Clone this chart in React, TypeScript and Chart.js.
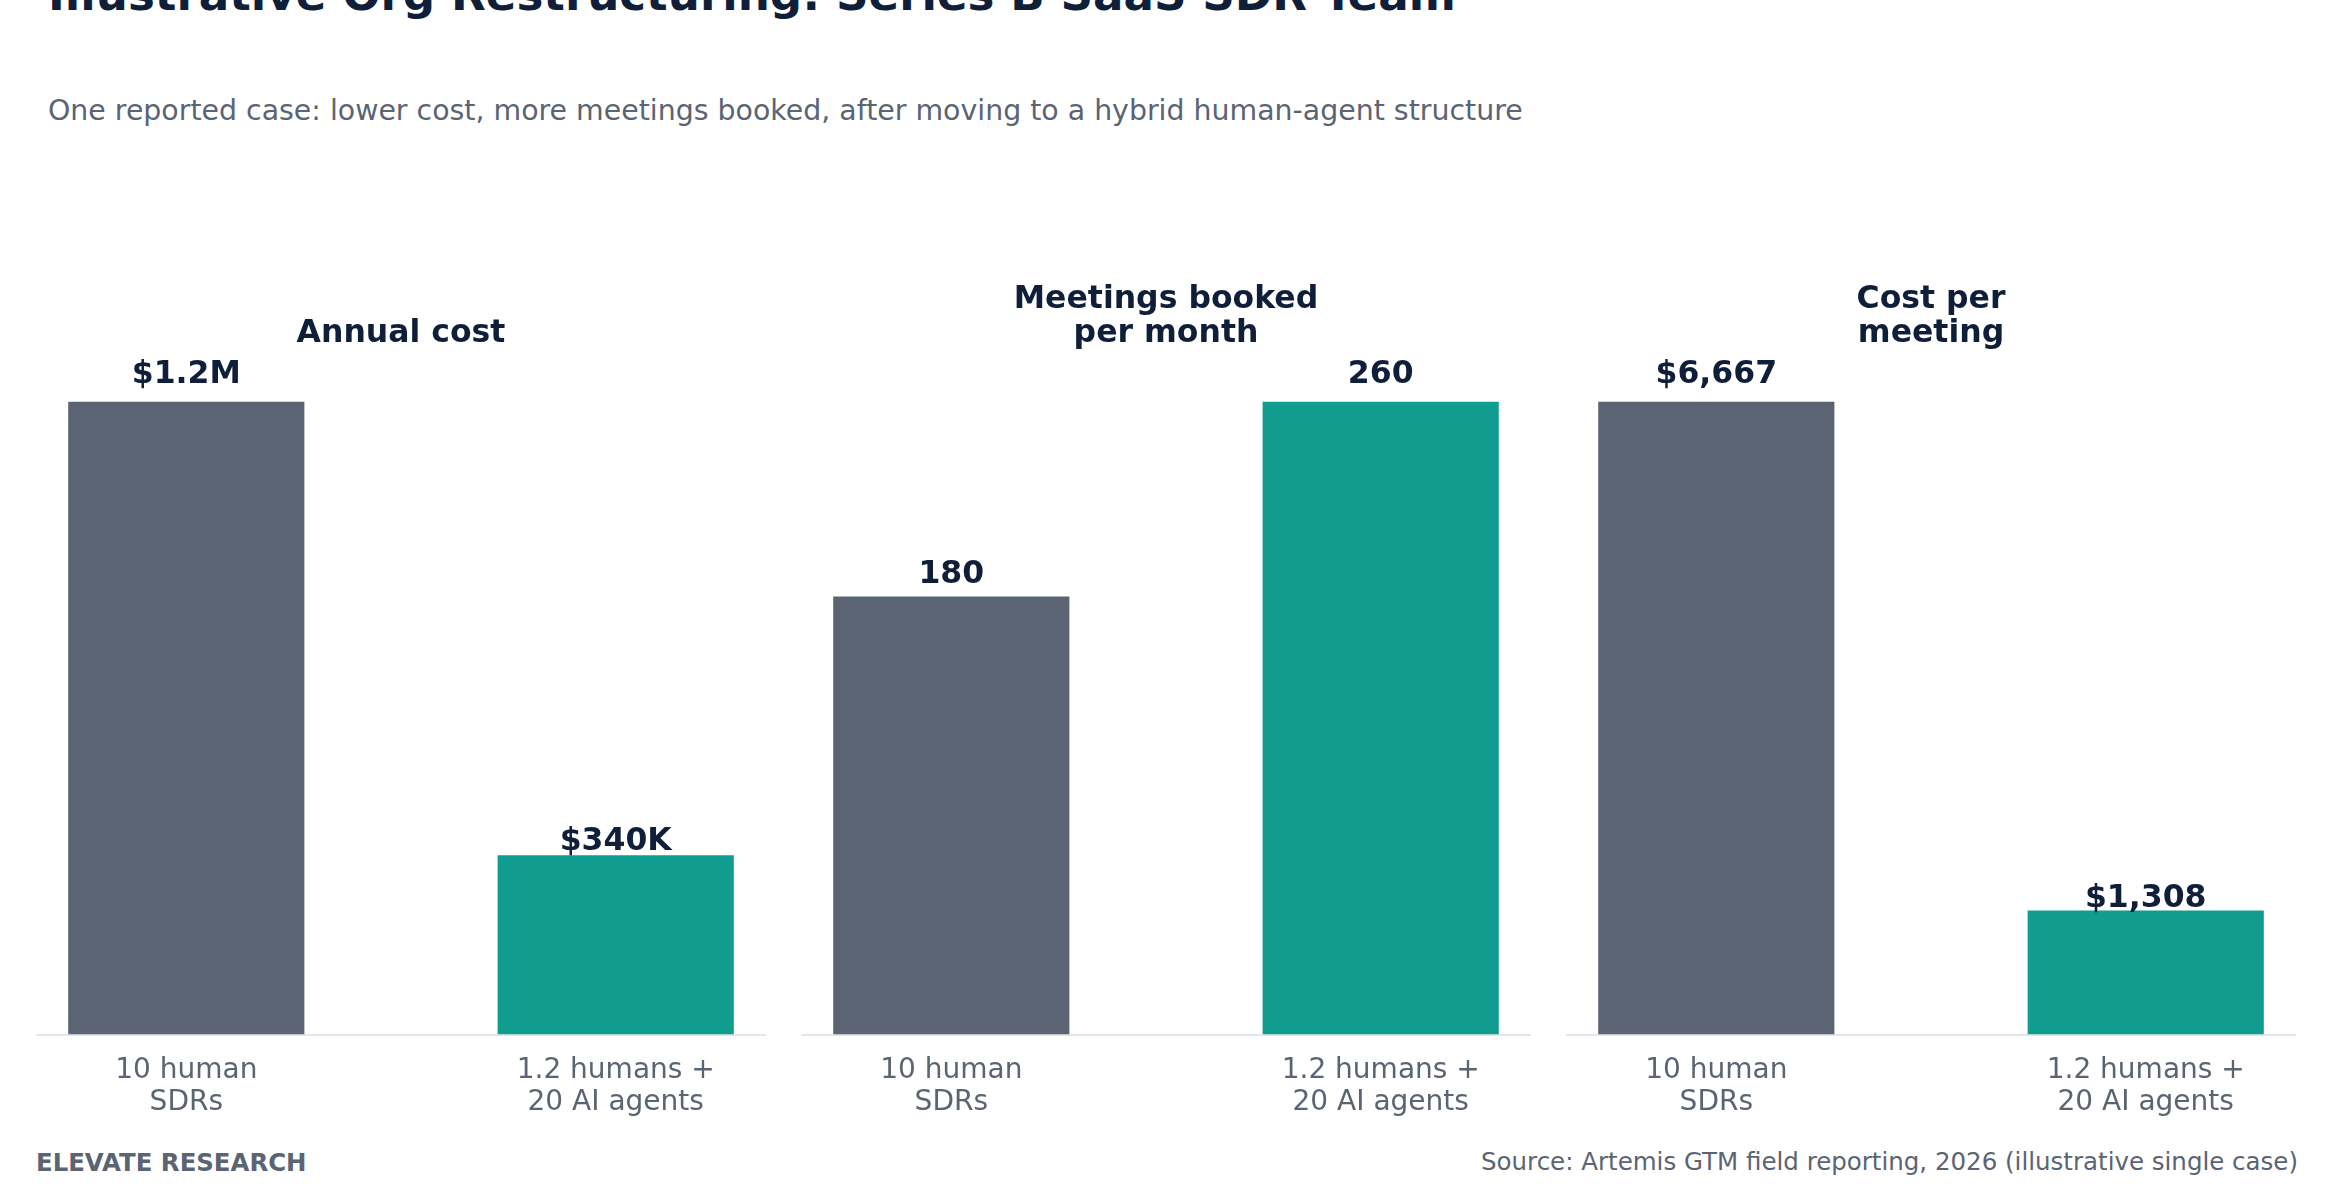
import { useEffect, useRef } from 'react'
import { Chart, registerables } from 'chart.js'

Chart.register(...registerables)

const FONT = '"DejaVu Sans", sans-serif'
const NAVY = '#0F1F3A'
const SLATE = '#5B6472'
const AXIS = '#E3E6EA'

const categories = [['10 human', 'SDRs'], ['1.2 humans +', '20 AI agents']]
const barColors = ['#5B6472', '#109D8F']

const panelTitles = [['Annual cost'], ['Meetings booked', 'per month'], ['Cost per', 'meeting']]
const annualCost = [1200000, 340000]
const meetingsPerMonth = [180, 260]
const costPerMeeting = [6667, 1308]

const fmtCost = (v: number) => (v >= 1e6 ? `$${(v / 1e6).toFixed(1)}M` : `$${Math.round(v / 1e3)}K`)
const fmtCount = (v: number) => String(v)
const fmtDollars = (v: number) => '$' + v.toLocaleString('en-US')

const PANEL_W = 730
const PANEL_STEP = 765
const PANEL_TOP = 240
const PANEL_H = 900

function makePanel(canvas: HTMLCanvasElement, values: number[], fmt: (v: number) => string, title: string[]) {
  const yMax = Math.max(...values) * 1.08
  return new Chart(canvas, {
    type: 'bar',
    data: {
      datasets: [
        {
          data: values.map((v, i) => ({ x: i, y: v })),
          backgroundColor: barColors,
          borderWidth: 0,
          categoryPercentage: 1,
          barPercentage: 0.55,
        },
      ],
    },
    options: {
      animation: false,
      responsive: true,
      maintainAspectRatio: false,
      layout: { padding: { top: 111, bottom: 1, left: 0, right: 0 } },
      plugins: {
        legend: { display: false },
        tooltip: { enabled: false },
      },
      scales: {
        x: {
          type: 'linear',
          min: -0.35,
          max: 1.35,
          offset: false,
          afterBuildTicks: (scale: any) => {
            scale.ticks = categories.map((_, i) => ({ value: i }))
          },
          ticks: {
            callback: (v: any) => categories[v as number],
            color: SLATE,
            font: { family: FONT, size: 28, lineHeight: 1.15 },
            padding: 20,
            maxRotation: 0,
            autoSkip: false,
          },
          grid: { display: false, drawTicks: false, offset: false },
          border: { display: true, color: AXIS, width: 2 },
        },
        y: { display: false, min: 0, max: yMax },
      },
    },
    plugins: [
      {
        id: 'valueLabels',
        afterDatasetsDraw(chart: any) {
          const { ctx, scales } = chart
          const meta = chart.getDatasetMeta(0)
          ctx.save()
          ctx.fillStyle = NAVY
          ctx.font = `bold 31.5px ${FONT}`
          ctx.textAlign = 'center'
          ctx.textBaseline = 'alphabetic'
          meta.data.forEach((bar: any, i: number) => {
            const y = scales.y.getPixelForValue(values[i] * 1.03)
            ctx.fillText(fmt(values[i]), bar.x, y)
          })
          ctx.restore()
        },
      },
      {
        id: 'panelTitle',
        afterDraw(chart: any) {
          const { ctx, chartArea } = chart
          const cx = (chartArea.left + chartArea.right) / 2
          ctx.save()
          ctx.fillStyle = NAVY
          ctx.font = `bold 31.5px ${FONT}`
          ctx.textAlign = 'center'
          ctx.textBaseline = 'alphabetic'
          const n = title.length
          title.forEach((line, i) => {
            ctx.fillText(line, cx, chartArea.top - 9 - (n - 1 - i) * 34)
          })
          ctx.restore()
        },
      },
    ],
  } as any)
}

export default function App() {
  const c1 = useRef<HTMLCanvasElement>(null)
  const c2 = useRef<HTMLCanvasElement>(null)
  const c3 = useRef<HTMLCanvasElement>(null)

  useEffect(() => {
    if (!c1.current || !c2.current || !c3.current) return
    const charts = [
      makePanel(c1.current, annualCost, fmtCost, panelTitles[0]),
      makePanel(c2.current, meetingsPerMonth, fmtCount, panelTitles[1]),
      makePanel(c3.current, costPerMeeting, fmtDollars, panelTitles[2]),
    ]
    return () => charts.forEach(c => c.destroy())
  }, [])

  const refs = [c1, c2, c3]

  return (
    <div
      style={{
        position: 'absolute',
        left: 0,
        top: 0,
        width: 2332,
        height: 1188,
        overflow: 'hidden',
        background: '#fff',
        fontFamily: FONT,
      }}
    >
      <div
        style={{
          position: 'absolute', left: 48, top: -28, fontSize: 45.2, lineHeight: 1,
          fontWeight: 'bold', color: NAVY, whiteSpace: 'nowrap',
        }}
      >
        Illustrative Org Restructuring: Series B SaaS SDR Team
      </div>
      <div
        style={{
          position: 'absolute', left: 48, top: 97, fontSize: 28.4, lineHeight: 1,
          color: SLATE, whiteSpace: 'nowrap',
        }}
      >
        One reported case: lower cost, more meetings booked, after moving to a hybrid human-agent structure
      </div>

      {refs.map((r, i) => (
        <div
          key={i}
          style={{ position: 'absolute', left: 36 + i * PANEL_STEP, top: PANEL_TOP, width: PANEL_W, height: PANEL_H }}
        >
          <canvas ref={r} />
        </div>
      ))}

      <div
        style={{
          position: 'absolute', left: 36, top: 1151, fontSize: 24.4, lineHeight: 1,
          fontWeight: 'bold', color: SLATE, whiteSpace: 'nowrap',
        }}
      >
        ELEVATE RESEARCH
      </div>
      <div
        style={{
          position: 'absolute', right: 34, top: 1150, fontSize: 24.5, lineHeight: 1,
          color: SLATE, whiteSpace: 'nowrap',
        }}
      >
        Source: Artemis GTM field reporting, 2026 (illustrative single case)
      </div>
    </div>
  )
}
